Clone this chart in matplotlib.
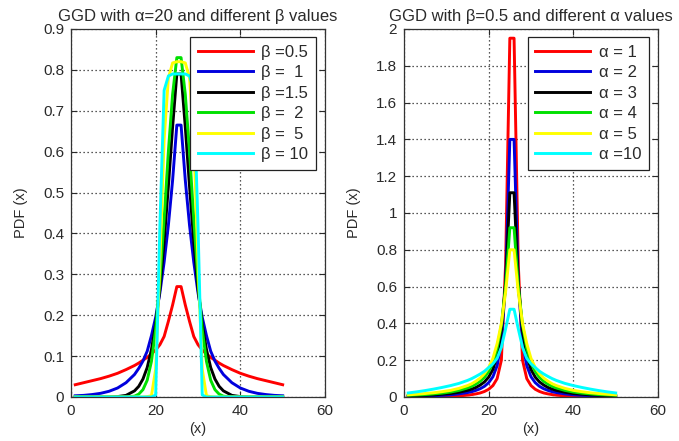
import matplotlib
matplotlib.use("Agg")
import matplotlib.pyplot as plt

plt.rcParams['font.family'] = ['Liberation Sans', 'DejaVu Sans']

# sample positions (x) shared by every curve
x = [1, 3, 5, 7, 9, 11, 13, 15, 16, 17, 18, 19, 20, 21, 22, 23, 24, 25,
     26, 27, 28, 29, 30, 31, 32, 33, 34, 35, 36, 38, 40, 42, 44, 46, 48, 50]

# ---- left panel: alpha = 20, varying beta ----
beta_labels = ['\u03b2 =0.5', '\u03b2 =  1', '\u03b2 =1.5', '\u03b2 =  2', '\u03b2 =  5', '\u03b2 = 10']
pdf_b05 = [0.030, 0.035, 0.040, 0.045, 0.051, 0.058, 0.067, 0.077, 0.083, 0.090, 0.097, 0.105,
           0.115, 0.128, 0.148, 0.185, 0.225, 0.270, 0.270, 0.225, 0.185, 0.148, 0.128, 0.115,
           0.105, 0.097, 0.090, 0.083, 0.077, 0.067, 0.058, 0.051, 0.045, 0.040, 0.035, 0.030]
pdf_b1 = [0.003, 0.004, 0.006, 0.009, 0.014, 0.022, 0.035, 0.055, 0.070, 0.088, 0.112, 0.150,
          0.195, 0.255, 0.330, 0.420, 0.530, 0.665, 0.665, 0.530, 0.420, 0.330, 0.255, 0.195,
          0.150, 0.112, 0.088, 0.070, 0.055, 0.035, 0.022, 0.014, 0.009, 0.006, 0.004, 0.003]
pdf_b15 = [0.000, 0.000, 0.000, 0.000, 0.000, 0.001, 0.004, 0.015, 0.026, 0.044, 0.072, 0.116,
           0.178, 0.265, 0.380, 0.515, 0.660, 0.790, 0.790, 0.660, 0.515, 0.380, 0.265, 0.178,
           0.116, 0.072, 0.044, 0.026, 0.015, 0.004, 0.001, 0.000, 0.000, 0.000, 0.000, 0.000]
pdf_b2 = [0.000, 0.000, 0.000, 0.000, 0.000, 0.000, 0.000, 0.002, 0.007, 0.018, 0.041, 0.087,
          0.165, 0.285, 0.435, 0.600, 0.740, 0.830, 0.830, 0.740, 0.600, 0.435, 0.285, 0.165,
          0.087, 0.041, 0.018, 0.007, 0.002, 0.000, 0.000, 0.000, 0.000, 0.000, 0.000, 0.000]
pdf_b5 = [0.000, 0.000, 0.000, 0.000, 0.000, 0.000, 0.000, 0.000, 0.000, 0.000, 0.001, 0.003,
          0.068, 0.330, 0.630, 0.780, 0.817, 0.820, 0.820, 0.817, 0.780, 0.630, 0.330, 0.068,
          0.003, 0.001, 0.000, 0.000, 0.000, 0.000, 0.000, 0.000, 0.000, 0.000, 0.000, 0.000]
pdf_b10 = [0.000, 0.000, 0.000, 0.000, 0.000, 0.000, 0.000, 0.000, 0.000, 0.000, 0.000, 0.000,
           0.005, 0.420, 0.750, 0.785, 0.790, 0.790, 0.790, 0.790, 0.785, 0.750, 0.420, 0.005,
           0.000, 0.000, 0.000, 0.000, 0.000, 0.000, 0.000, 0.000, 0.000, 0.000, 0.000, 0.000]

# ---- right panel: beta = 0.5, varying alpha ----
alpha_labels = ['\u03b1 = 1', '\u03b1 = 2', '\u03b1 = 3', '\u03b1 = 4', '\u03b1 = 5', '\u03b1 =10']
pdf_a1 = [0.001, 0.001, 0.0015, 0.002, 0.003, 0.004, 0.006, 0.010, 0.013, 0.017, 0.022, 0.030,
          0.042, 0.062, 0.100, 0.200, 0.720, 1.950, 1.950, 0.720, 0.200, 0.100, 0.062, 0.042,
          0.030, 0.022, 0.017, 0.013, 0.010, 0.006, 0.004, 0.003, 0.002, 0.0015, 0.001, 0.001]
pdf_a2 = [0.003, 0.004, 0.005, 0.007, 0.009, 0.012, 0.017, 0.024, 0.029, 0.036, 0.045, 0.058,
          0.078, 0.110, 0.170, 0.300, 0.620, 1.400, 1.400, 0.620, 0.300, 0.170, 0.110, 0.078,
          0.058, 0.045, 0.036, 0.029, 0.024, 0.017, 0.012, 0.009, 0.007, 0.005, 0.004, 0.003]
pdf_a3 = [0.006, 0.007, 0.009, 0.011, 0.015, 0.019, 0.026, 0.036, 0.043, 0.052, 0.065, 0.082,
          0.108, 0.150, 0.225, 0.360, 0.620, 1.110, 1.110, 0.620, 0.360, 0.225, 0.150, 0.108,
          0.082, 0.065, 0.052, 0.043, 0.036, 0.026, 0.019, 0.015, 0.011, 0.009, 0.007, 0.006]
pdf_a4 = [0.009, 0.011, 0.013, 0.017, 0.021, 0.027, 0.036, 0.049, 0.058, 0.070, 0.085, 0.107,
          0.138, 0.185, 0.265, 0.390, 0.600, 0.920, 0.920, 0.600, 0.390, 0.265, 0.185, 0.138,
          0.107, 0.085, 0.070, 0.058, 0.049, 0.036, 0.027, 0.021, 0.017, 0.013, 0.011, 0.009]
pdf_a5 = [0.012, 0.015, 0.019, 0.023, 0.029, 0.036, 0.047, 0.062, 0.072, 0.086, 0.103, 0.127,
          0.160, 0.210, 0.290, 0.400, 0.570, 0.800, 0.800, 0.570, 0.400, 0.290, 0.210, 0.160,
          0.127, 0.103, 0.086, 0.072, 0.062, 0.047, 0.036, 0.029, 0.023, 0.019, 0.015, 0.012]
pdf_a10 = [0.022, 0.028, 0.035, 0.043, 0.052, 0.062, 0.074, 0.090, 0.100, 0.112, 0.125, 0.140,
           0.160, 0.180, 0.210, 0.270, 0.370, 0.477, 0.477, 0.370, 0.270, 0.210, 0.180, 0.160,
           0.140, 0.125, 0.112, 0.100, 0.090, 0.074, 0.062, 0.052, 0.043, 0.035, 0.028, 0.022]

colors = ['#ff0000', '#0000dd', '#000000', '#00e000', '#ffff00', '#00ffff']
text_color = '#2a2a2a'


def style_axes(ax, ymax, ystep):
    ax.set_xlim(0, 60)
    ax.set_ylim(0, ymax)
    ax.set_xticks([0, 20, 40, 60])
    n = int(round(ymax / ystep))
    yt = [round(i * ystep, 2) for i in range(n + 1)]
    ax.set_yticks(yt)
    ax.set_yticklabels(['%g' % v for v in yt])
    ax.grid(True, color='#222222', linestyle=(0, (1, 2.2)), linewidth=0.9)
    ax.tick_params(direction='in', top=True, right=True, length=4, width=0.8,
                   labelsize=11, colors=text_color, pad=5)
    for s in ax.spines.values():
        s.set_color('#333333')
        s.set_linewidth(0.9)
    ax.set_xlabel('(x)', fontsize=10.5, color=text_color, labelpad=3)
    ax.set_ylabel('PDF (x)', fontsize=10.5, color=text_color, labelpad=11)


def add_legend(ax):
    leg = ax.legend(loc='upper right', bbox_to_anchor=(0.963, 0.978), fontsize=12,
                    frameon=True, fancybox=False, edgecolor='#222222', framealpha=1,
                    handlelength=3.3, handletextpad=0.5, labelspacing=0.33, borderpad=0.45,
                    borderaxespad=0)
    leg.get_frame().set_linewidth(0.9)
    for t in leg.get_texts():
        t.set_color(text_color)
    return leg


fig = plt.figure(figsize=(6.79, 4.41), dpi=100)

axL = fig.add_axes([71 / 679, 44 / 441, 254 / 679, 368 / 441])
for ys, c, lab in zip([pdf_b05, pdf_b1, pdf_b15, pdf_b2, pdf_b5, pdf_b10], colors, beta_labels):
    axL.plot(x, ys, color=c, linewidth=2.1, label=lab)
style_axes(axL, 0.9, 0.1)
axL.set_title('GGD with \u03b1=20 and different \u03b2 values', fontsize=12, color=text_color, pad=6)
add_legend(axL)

axR = fig.add_axes([404 / 679, 44 / 441, 254 / 679, 368 / 441])
for ys, c, lab in zip([pdf_a1, pdf_a2, pdf_a3, pdf_a4, pdf_a5, pdf_a10], colors, alpha_labels):
    axR.plot(x, ys, color=c, linewidth=2.1, label=lab)
style_axes(axR, 2.0, 0.2)
axR.set_title('GGD with \u03b2=0.5 and different \u03b1 values', fontsize=12, color=text_color, pad=6)
add_legend(axR)

fig.savefig('out.png', dpi=100)
